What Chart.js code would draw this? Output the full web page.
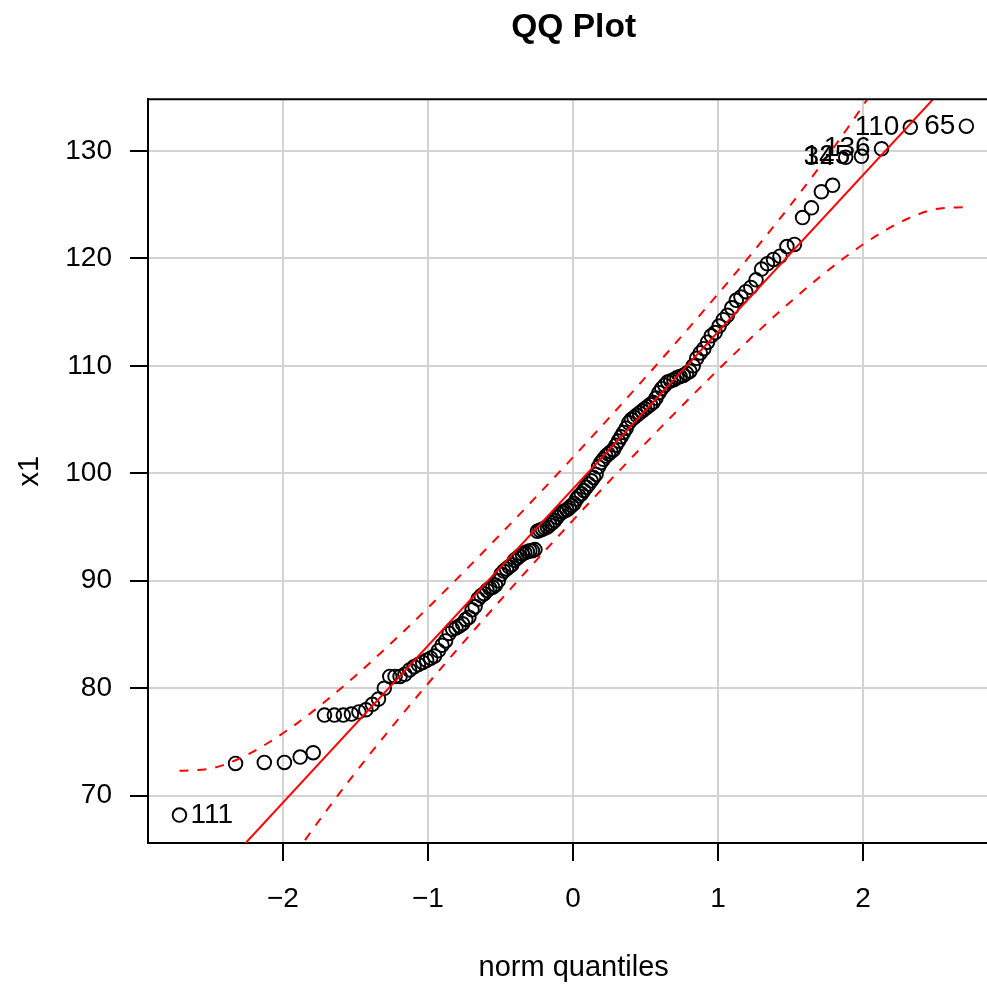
<!DOCTYPE html>
<html>
<head>
<meta charset="utf-8">
<title>QQ Plot</title>
<script src="https://cdn.jsdelivr.net/npm/chart.js@4.4.1/dist/chart.umd.min.js"></script>
<style>
  html, body { margin: 0; padding: 0; background: #fff; overflow: hidden; }
  #wrap { width: 987px; height: 984px; overflow: hidden; }
  #box { position: relative; width: 1008px; height: 984px; }
  canvas { display: block; }
</style>
</head>
<body>
<div id="wrap">
  <div id="box"><canvas id="qq-chart"></canvas></div>
</div>
<script>
// Valores ordenados de x1 (150 observações)
const x1Values = [
  68.2, 73.0, 73.1, 73.1, 73.6, 74.0, 77.5, 77.5, 77.5, 77.6,
  77.8, 78.0, 78.5, 79.0, 80.0, 81.1, 81.1, 81.1, 81.3, 81.7,
  82.0, 82.2, 82.4, 82.6, 82.8, 83.0, 83.5, 84.0, 84.4, 85.1,
  85.5, 85.6, 85.8, 86.0, 86.4, 86.6, 87.3, 87.6, 88.3, 88.6,
  88.8, 89.1, 89.3, 89.4, 89.6, 90.0, 90.6, 90.9, 91.1, 91.3,
  91.5, 91.9, 92.1, 92.3, 92.5, 92.6, 92.7, 92.8, 92.8, 92.9,
  94.6, 94.7, 94.8, 94.9, 95.0, 95.2, 95.4, 95.6, 95.9, 96.2,
  96.4, 96.5, 96.6, 96.8, 97.0, 97.2, 97.6, 97.9, 98.1, 98.4,
  98.7, 99.0, 99.3, 99.6, 99.9, 100.6, 101.0, 101.3, 101.6, 101.8,
  102.0, 102.2, 102.6, 103.0, 103.4, 103.8, 104.2, 104.7, 105.0, 105.2,
  105.4, 105.6, 105.8, 106.0, 106.2, 106.4, 106.6, 107.0, 107.5, 107.9,
  108.2, 108.5, 108.6, 108.7, 108.9, 109.0, 109.1, 109.3, 109.5, 110.0,
  110.7, 111.2, 111.6, 112.2, 112.8, 113.1, 113.7, 114.3, 114.7, 115.4,
  116.1, 116.4, 116.9, 117.3, 118.0, 119.0, 119.5, 119.9, 120.2, 121.1,
  121.3, 123.8, 124.7, 126.2, 126.8, 129.4, 129.5, 130.2, 132.2, 132.3
];

// Pontos identificados (posição na amostra ordenada) e seus rótulos
const idPositions = [0, 145, 146, 147, 148, 149];
const idLabels = ['111', '34', '125', '136', '110', '65'];

// Reta de referência (quartis)
const lineIntercept = 98.55;
const lineSlope = 14.6;

// Envelope de confiança
const envZ = [-2.713, -2.5, -2.3, -2.1, -1.9, -1.7, -1.5, -1.25, -1, -0.5, 0, 0.5, 1, 1.25, 1.5, 1.7, 1.9, 2.1, 2.3, 2.5, 2.713];
const envUpper = [72.32, 72.52, 73.46, 74.93, 76.76, 78.86, 81.15, 84.23, 87.48, 94.32, 101.48, 108.92, 116.68, 120.73, 124.95, 128.50, 132.24, 136.25, 140.62, 145.52, 151.54];
const envLower = [45.56, 51.58, 56.48, 60.85, 64.86, 68.60, 72.15, 76.37, 80.42, 88.19, 95.62, 102.79, 109.62, 112.87, 115.95, 118.24, 120.34, 122.17, 123.64, 124.58, 124.78];

// Limites dos eixos
const xMin = -2.93, xMax = 2.94;
const yMin = 65.6, yMax = 134.8;

const FONT = "'Liberation Sans', Arial, Helvetica, sans-serif";

// Quantil da normal padrão (aproximação de Acklam)
function qnorm(p) {
    const a = [-3.969683028665376e+01, 2.209460984245205e+02, -2.759285104469687e+02, 1.383577518672690e+02, -3.066479806614716e+01, 2.506628277459239e+00];
    const b = [-5.447609879822406e+01, 1.615858368580409e+02, -1.556989798598866e+02, 6.680131188771972e+01, -1.328068155288572e+01];
    const c = [-7.784894002430293e-03, -3.223964580411365e-01, -2.400758277161838e+00, -2.549732539343734e+00, 4.374664141464968e+00, 2.938163982698783e+00];
    const d = [7.784695709041462e-03, 3.224671290700398e-01, 2.445134137142996e+00, 3.754408661907416e+00];
    const plow = 0.02425;
    let q, r;
    if (p < plow) {
        q = Math.sqrt(-2 * Math.log(p));
        return (((((c[0]*q + c[1])*q + c[2])*q + c[3])*q + c[4])*q + c[5]) / ((((d[0]*q + d[1])*q + d[2])*q + d[3])*q + 1);
    }
    if (p > 1 - plow) {
        q = Math.sqrt(-2 * Math.log(1 - p));
        return -(((((c[0]*q + c[1])*q + c[2])*q + c[3])*q + c[4])*q + c[5]) / ((((d[0]*q + d[1])*q + d[2])*q + d[3])*q + 1);
    }
    q = p - 0.5;
    r = q * q;
    return (((((a[0]*r + a[1])*r + a[2])*r + a[3])*r + a[4])*r + a[5])*q / (((((b[0]*r + b[1])*r + b[2])*r + b[3])*r + b[4])*r + 1);
}

// Quantis teóricos: ppoints(n) -> qnorm
const n = x1Values.length;
const qqPoints = x1Values.map((v, i) => ({ x: qnorm((i + 0.5) / n), y: v }));

const refLine = [
    { x: xMin, y: lineIntercept + lineSlope * xMin },
    { x: xMax, y: lineIntercept + lineSlope * xMax }
];
const upperBand = envZ.map((z, i) => ({ x: z, y: envUpper[i] }));
const lowerBand = envZ.map((z, i) => ({ x: z, y: envLower[i] }));

// Borda superior da caixa do gráfico
const boxTopPlugin = {
    id: 'boxTop',
    afterDraw(chart) {
        const { ctx, chartArea } = chart;
        ctx.save();
        ctx.strokeStyle = '#000';
        ctx.lineWidth = 2;
        ctx.beginPath();
        ctx.moveTo(chartArea.left - 1, chartArea.top);
        ctx.lineTo(chartArea.right + 1, chartArea.top);
        ctx.stroke();
        ctx.restore();
    }
};

// Rótulos dos pontos identificados
const idLabelPlugin = {
    id: 'idLabels',
    afterDatasetsDraw(chart) {
        const meta = chart.getDatasetMeta(3);
        const ctx = chart.ctx;
        ctx.save();
        ctx.font = '28px ' + FONT;
        ctx.fillStyle = '#000';
        ctx.textBaseline = 'middle';
        idPositions.forEach((pos, k) => {
            const el = meta.data[pos];
            if (!el) return;
            if (qqPoints[pos].x < 0) {
                ctx.textAlign = 'left';
                ctx.fillText(idLabels[k], el.x + 11, el.y);
            } else {
                ctx.textAlign = 'right';
                ctx.fillText(idLabels[k], el.x - 11, el.y);
            }
        });
        ctx.restore();
    }
};

const minusFmt = (v) => (v < 0 ? '\u2212' + Math.abs(v) : String(v));

const canvas = document.getElementById('qq-chart');
const qqChart = new Chart(canvas, {
    type: 'scatter',
    data: {
        datasets: [
            {
                label: 'reta',
                type: 'line',
                data: refLine,
                borderColor: '#ff0000',
                borderWidth: 2,
                pointRadius: 0,
                fill: false,
                order: 0
            },
            {
                label: 'superior',
                type: 'line',
                data: upperBand,
                borderColor: '#ff0000',
                borderWidth: 2,
                borderDash: [9, 9],
                pointRadius: 0,
                fill: false,
                cubicInterpolationMode: 'monotone',
                order: 0
            },
            {
                label: 'inferior',
                type: 'line',
                data: lowerBand,
                borderColor: '#ff0000',
                borderWidth: 2,
                borderDash: [9, 9],
                pointRadius: 0,
                fill: false,
                cubicInterpolationMode: 'monotone',
                order: 0
            },
            {
                label: 'x1',
                data: qqPoints,
                pointStyle: 'circle',
                pointRadius: 6.8,
                borderWidth: 1.9,
                borderColor: '#000',
                backgroundColor: 'rgba(0,0,0,0)',
                order: 1
            }
        ]
    },
    options: {
        responsive: true,
        maintainAspectRatio: false,
        animation: false,
        devicePixelRatio: 1,
        layout: { padding: 0 },
        plugins: {
            legend: { display: false },
            tooltip: { enabled: false },
            title: {
                display: true,
                text: 'QQ Plot',
                fullSize: false,
                color: '#000',
                font: { family: FONT, size: 33.6, weight: 'bold' },
                padding: { top: 8, bottom: 51 }
            }
        },
        scales: {
            x: {
                type: 'linear',
                min: xMin,
                max: xMax,
                afterFit(scale) { scale.height = 141; },
                ticks: {
                    stepSize: 1,
                    includeBounds: false,
                    maxRotation: 0,
                    color: '#000',
                    padding: 21,
                    font: { family: FONT, size: 28 },
                    callback: minusFmt
                },
                grid: {
                    color: '#d3d3d3',
                    lineWidth: 2,
                    tickColor: '#000',
                    tickLength: 18,
                    tickWidth: 2
                },
                border: { color: '#000', width: 2 },
                title: {
                    display: true,
                    text: 'norm quantiles',
                    color: '#000',
                    font: { family: FONT, size: 29 },
                    padding: { top: 0, bottom: -1 }
                }
            },
            y: {
                type: 'linear',
                min: yMin,
                max: yMax,
                afterFit(scale) { scale.width = 148; },
                ticks: {
                    stepSize: 10,
                    includeBounds: false,
                    color: '#000',
                    padding: 18,
                    font: { family: FONT, size: 28 }
                },
                grid: {
                    color: '#d3d3d3',
                    lineWidth: 2,
                    tickColor: '#000',
                    tickLength: 18,
                    tickWidth: 2
                },
                border: { color: '#000', width: 2 },
                title: {
                    display: true,
                    text: 'x1',
                    color: '#000',
                    font: { family: FONT, size: 29 },
                    padding: { top: 13, bottom: 0 }
                }
            }
        }
    },
    plugins: [boxTopPlugin, idLabelPlugin]
});
</script>
</body>
</html>
